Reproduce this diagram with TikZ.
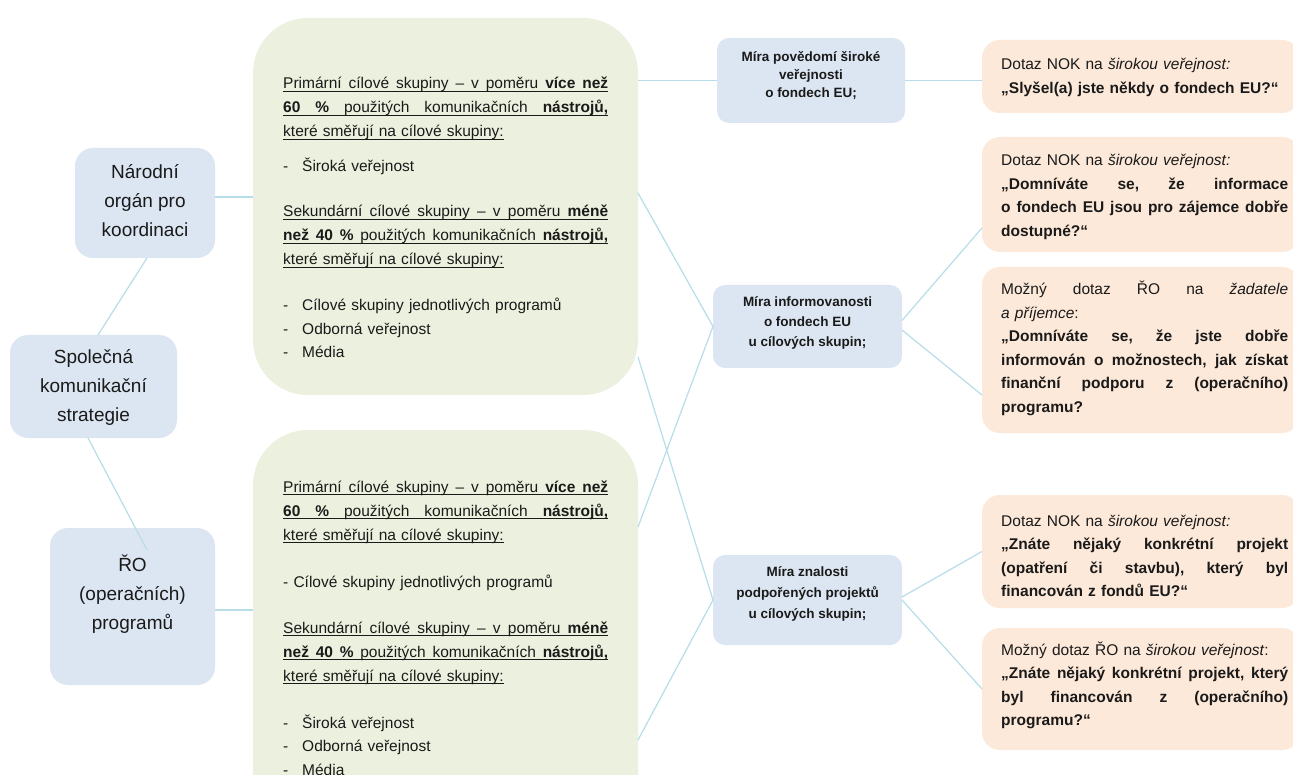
\documentclass[tikz,border=0pt]{standalone}
\usepackage{fontspec}
\setmainfont{Liberation Sans}
\usetikzlibrary{calc}
\definecolor{bluebox}{HTML}{DCE6F2}
\definecolor{greenbox}{HTML}{EBF1DE}
\definecolor{orangebox}{HTML}{FDE9D9}
\definecolor{connc}{HTML}{B7DDE8}
\definecolor{ink}{HTML}{1A1A1A}
\newcommand{\jl}[1]{\leavevmode\hbox to \linewidth{\frenchspacing\spaceskip=0.278em plus 1fil\relax #1}}
\newcommand{\myul}[1]{\leavevmode\setbox0=\hbox{#1}\rlap{\rule[-2.6pt]{\wd0}{1pt}}\box0}
\newcommand{\itm}{\leavevmode\makebox[19pt][l]{-}}
\hbadness=10000
\tikzset{
  shapebox/.style={draw=none, inner sep=0pt, outer sep=0pt},
  leftbox/.style={shapebox, fill=bluebox, rounded corners=18pt},
  midbox/.style={shapebox, fill=bluebox, rounded corners=12pt},
  greenpanel/.style={shapebox, fill=greenbox, rounded corners=55pt},
  orangepanel/.style={shapebox, fill=orangebox, rounded corners=18pt},
  conn/.style={draw=connc, line width=1.2pt},
  lefttext/.style={text=ink, align=center, inner sep=0pt, font=\fontsize{19}{29}\selectfont},
  midtext/.style={text=ink, align=center, inner sep=0pt},
  greentext/.style={text=ink, text width=325pt, align=left, inner sep=0pt, anchor=base west, font=\fontsize{15.5}{24}\selectfont},
  orangetext/.style={text=ink, text width=287pt, align=left, inner sep=0pt, anchor=base west, font=\fontsize{15.5}{23.5}\selectfont},
}
\begin{document}
\begin{tikzpicture}[x=1pt,y=-1pt]
\useasboundingbox (0,0) rectangle (1293,775);
\fill[white] (0,0) rectangle (1293,775);
\clip (0,0) rectangle (1293,775);

% boxes
\node[leftbox, minimum width=140pt, minimum height=110pt] (nok) at (145,203) {};
\node[leftbox, minimum width=167pt, minimum height=103pt] (spol) at (93.5,386.5) {};
\node[leftbox, minimum width=165pt, minimum height=157pt] (ro) at (132.5,606.5) {};
\node[greenpanel, minimum width=385pt, minimum height=377pt] (gtop) at (445.5,206.5) {};
\node[greenpanel, minimum width=385pt, minimum height=400pt] (gbot) at (445.5,630) {};
\node[midbox, minimum width=188pt, minimum height=85pt] (m1) at (811,80.5) {};
\node[midbox, minimum width=189pt, minimum height=83pt] (m2) at (807.5,326.5) {};
\node[midbox, minimum width=189pt, minimum height=90pt] (m3) at (807.5,600) {};
\node[orangepanel, minimum width=318pt, minimum height=73pt] (o1) at (1141,76.5) {};
\node[orangepanel, minimum width=318pt, minimum height=115pt] (o2) at (1141,194.5) {};
\node[orangepanel, minimum width=318pt, minimum height=166pt] (o3) at (1141,350) {};
\node[orangepanel, minimum width=318pt, minimum height=113pt] (o4) at (1141,551.5) {};
\node[orangepanel, minimum width=318pt, minimum height=122pt] (o5) at (1141,689) {};

% connectors
\draw[conn] ([yshift=6pt]nok.east) -- ([yshift=6pt]nok.east -| gtop.west);
\draw[conn] ([xshift=2pt]nok.south) -- ([xshift=4.5pt]spol.north);
\draw[conn] ([xshift=-5.5pt]spol.south) -- ([xshift=14.5pt,yshift=-22pt]ro.north);
\draw[conn] ([yshift=-3.5pt]ro.east) -- ([yshift=-3.5pt]ro.east -| gbot.west);
\draw[conn] (m1.west -| gtop.east) -- (m1.west);
\draw[conn] (m1.east) -- (m1.east -| o1.west);
\draw[conn] ([yshift=-175pt]gtop.north east) -- (m2.west);
\draw[conn] ([yshift=-97pt]gbot.north east) -- (m2.west);
\draw[conn] ([yshift=-339pt]gtop.north east) -- (m3.west);
\draw[conn] ([yshift=-310pt]gbot.north east) -- (m3.west);
\draw[conn] ([yshift=6pt]m2.east) -- ([yshift=-33.5pt]o2.west);
\draw[conn] ([yshift=-3.5pt]m2.east) -- ([yshift=-45pt]o3.west);
\draw[conn] ([yshift=3pt]m3.east) -- (o4.west);
\draw[conn] (m3.east) -- (o5.west);

% left texts
\node[lefttext] (tnok) at (145,201) {Národní\\orgán pro\\koordinaci};
\node[lefttext] (tspol) at (93.5,387) {Společná\\komunikační\\strategie};
\node[lefttext] (tro) at (132.5,594) {ŘO\\(operačních)\\programů};

% middle texts
\node[midtext, font=\bfseries\fontsize{13.5}{18}\selectfont] (tm1) at (811,75.5) {Míra povědomí široké\\veřejnosti\\o fondech EU;};
\node[midtext, font=\bfseries\fontsize{13.5}{20}\selectfont] (tm2) at (807.5,323) {Míra informovanosti\\o fondech EU\\u cílových skupin;};
\node[midtext, font=\bfseries\fontsize{13.5}{21}\selectfont] (tm3) at (807.5,594) {Míra znalosti\\podpořených projektů\\u cílových skupin;};

% green texts
\node[greentext] (tgtop) at (283,89) {%
\myul{\jl{Primární cílové skupiny – v poměru \textbf{více než}}}\\
\myul{\jl{\textbf{60 \%} použitých komunikačních \textbf{nástrojů,}}}\\
\myul{které směřují na cílové skupiny:}\\[11pt]
\itm Široká veřejnost\\[21pt]
\myul{\jl{Sekundární cílové skupiny – v poměru \textbf{méně}}}\\
\myul{\jl{\textbf{než 40 \%} použitých komunikačních \textbf{nástrojů,}}}\\
\myul{které směřují na cílové skupiny:}\\[22pt]
\itm Cílové skupiny jednotlivých programů\\[-0.5pt]
\itm Odborná veřejnost\\[-0.5pt]
\itm Média};

\node[greentext] (tgbot) at (283,492) {%
\myul{\jl{Primární cílové skupiny – v poměru \textbf{více než}}}\\
\myul{\jl{\textbf{60 \%} použitých komunikačních \textbf{nástrojů,}}}\\
\myul{které směřují na cílové skupiny:}\\[23pt]
- Cílové skupiny jednotlivých programů\\[22pt]
\myul{\jl{Sekundární cílové skupiny – v poměru \textbf{méně}}}\\
\myul{\jl{\textbf{než 40 \%} použitých komunikačních \textbf{nástrojů,}}}\\
\myul{které směřují na cílové skupiny:}\\[23pt]
\itm Široká veřejnost\\[-0.5pt]
\itm Odborná veřejnost\\[-0.5pt]
\itm Média};

% orange texts
\node[orangetext] (to1) at (1001,70) {%
Dotaz NOK na \textit{širokou veřejnost:}\\
\textbf{„Slyšel(a) jste někdy o fondech EU?“}};

\node[orangetext] (to2) at (1001,166) {%
Dotaz NOK na \textit{širokou veřejnost:}\\
\jl{\textbf{„Domníváte se, že informace}}\\
\jl{\textbf{o fondech EU jsou pro zájemce dobře}}\\
\textbf{dostupné?“}};

\node[orangetext] (to3) at (1001,295) {%
\jl{Možný dotaz ŘO na \textit{žadatele}}\\
\textit{a příjemce}:\\
\jl{\textbf{„Domníváte se, že jste dobře}}\\
\jl{\textbf{informován o možnostech, jak získat}}\\
\jl{\textbf{finanční podporu z (operačního)}}\\
\textbf{programu?}};

\node[orangetext] (to4) at (1001,526) {%
Dotaz NOK na \textit{širokou veřejnost:}\\
\jl{\textbf{„Znáte nějaký konkrétní projekt}}\\
\jl{\textbf{(opatření či stavbu), který byl}}\\
\textbf{financován z fondů EU?“}};

\node[orangetext] (to5) at (1001,655) {%
Možný dotaz ŘO na \textit{širokou veřejnost}:\\
\jl{\textbf{„Znáte nějaký konkrétní projekt, který}}\\
\jl{\textbf{byl financován z (operačního)}}\\
\textbf{programu?“}};
\end{tikzpicture}
\end{document}
